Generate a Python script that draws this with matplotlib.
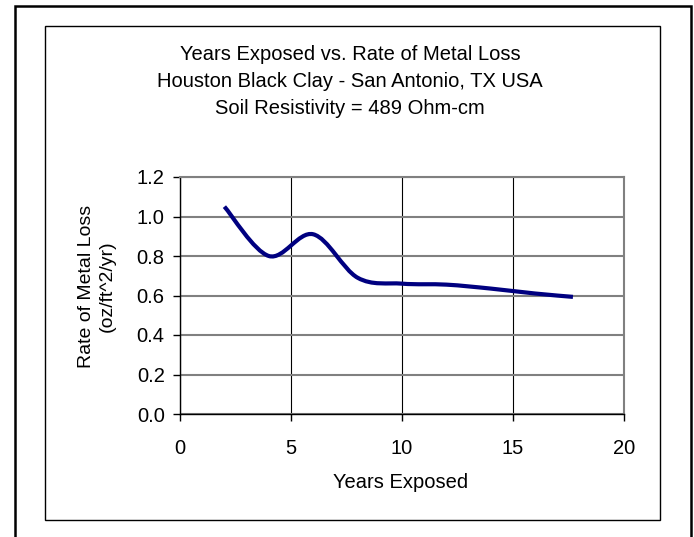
import numpy as np
import matplotlib
matplotlib.use("Agg")
import matplotlib.pyplot as plt
from matplotlib.path import Path
from matplotlib.patches import PathPatch, Rectangle

# ── data ─────────────────────────────────────────────────────────────────────
years = [2, 4, 6, 8, 10, 12, 14, 16, 17.7]
rate = [1.05, 0.80, 0.91, 0.69, 0.66, 0.655, 0.635, 0.61, 0.593]

x_ticks = [0, 5, 10, 15, 20]
y_ticks = [0.0, 0.2, 0.4, 0.6, 0.8, 1.0, 1.2]

title_lines = ["Years Exposed vs. Rate of Metal Loss",
               "Houston Black Clay - San Antonio, TX USA",
               "Soil Resistivity = 489 Ohm-cm"]


def smooth_path(xs, ys):
    """Excel-style smoothed line as cubic Bezier segments."""
    p = np.column_stack([xs, ys]).astype(float)
    n = len(p)
    verts = [p[0]]
    codes = [Path.MOVETO]
    for i in range(n - 1):
        p_prev = p[i - 1] if i > 0 else p[i]
        p_next2 = p[i + 2] if i + 2 < n else p[i + 1]
        c1 = p[i] + (p[i + 1] - p_prev) / 6.0
        c2 = p[i + 1] - (p_next2 - p[i]) / 6.0
        verts += [c1, c2, p[i + 1]]
        codes += [Path.CURVE4] * 3
    return Path(verts, codes)


plt.rcParams["font.family"] = ["Liberation Sans", "DejaVu Sans"]
FS = 14.5

W, H = 694, 537
fig = plt.figure(figsize=(W / 100, H / 100), dpi=100)

# outer and inner chart frames
fig.patches.append(Rectangle((15 / W, 1 - 545 / H), 676 / W, 539 / H,
                             transform=fig.transFigure, fill=False,
                             edgecolor="black", linewidth=1.8))
fig.patches.append(Rectangle((45 / W, 1 - 520 / H), 615 / W, 494 / H,
                             transform=fig.transFigure, fill=False,
                             edgecolor="black", linewidth=1.0))

ax = fig.add_axes([180 / W, 1 - 414 / H, 444 / W, 237 / H])

ax.add_patch(PathPatch(smooth_path(years, rate), fill=False,
                       edgecolor="#000080", linewidth=3.0,
                       capstyle="butt", zorder=3))

ax.set_xlim(0, 20)
ax.set_ylim(0, 1.2)
ax.set_xticks(x_ticks)
ax.set_yticks(y_ticks)
ax.set_xticklabels([str(v) for v in x_ticks])
ax.set_yticklabels([f"{v:.1f}" for v in y_ticks])

ax.yaxis.grid(True, color="#808080", linewidth=1.5)
ax.xaxis.grid(True, color="black", linewidth=0.8)
ax.set_axisbelow(True)

for side in ("top", "right"):
    ax.spines[side].set_color("#808080")
    ax.spines[side].set_linewidth(1.5)
for side in ("left", "bottom"):
    ax.spines[side].set_color("black")
    ax.spines[side].set_linewidth(1.0)

ax.tick_params(direction="out", length=5, width=1, labelsize=FS,
               colors="black")
ax.tick_params(axis="x", pad=13)
ax.tick_params(axis="y", pad=6)

# axis titles
fig.text(401 / W, 1 - 482 / H, "Years Exposed", fontsize=FS,
         ha="center", va="center")
fig.text(97 / W, 1 - 286 / H, "Rate of Metal Loss\n(oz/ft^2/yr)",
         fontsize=14, rotation=90, ha="center", va="center",
         multialignment="center", linespacing=1.25)

# chart title
for i, line in enumerate(title_lines):
    fig.text(350 / W, 1 - (55 + i * 26.5) / H, line, fontsize=FS,
             ha="center", va="center")

fig.savefig("out.png", dpi=100)
